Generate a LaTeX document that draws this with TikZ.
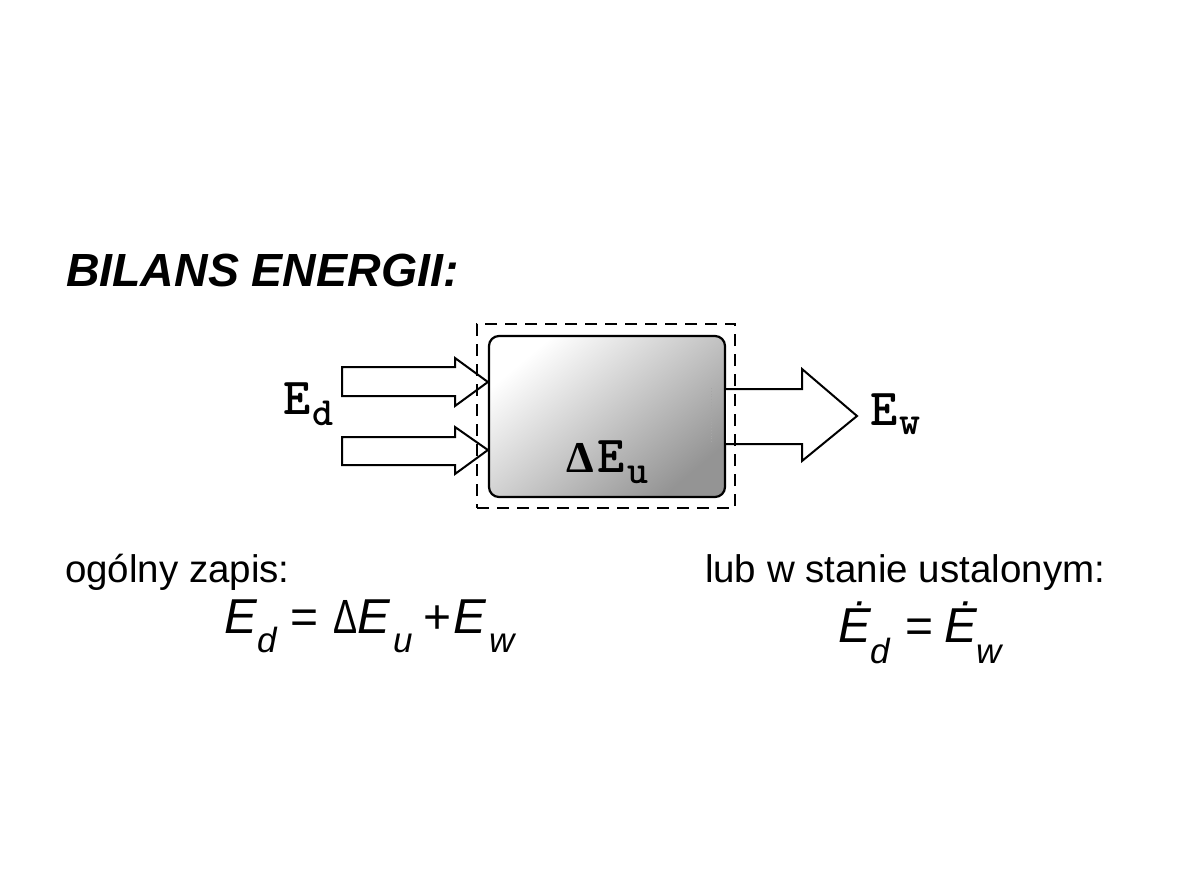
\documentclass[tikz,border=0pt]{standalone}
\usepackage{fontspec}
\setmainfont{Liberation Sans}
\newfontfamily\courbold{lmmonolt10-bold.otf}
\newfontfamily\serifbold{Liberation Serif}[UprightFont=*-Bold]
\newcommand{\lsub}[2]{\hspace{#1}\raisebox{#2}{\fontsize{40}{40}\selectfont}}
\begin{document}
\begin{tikzpicture}[x=1pt,y=-1pt,
  txt/.style={inner sep=0pt, outer sep=0pt, anchor=base west},
  lbl/.style={txt, font=\courbold\fontsize{52}{52}\selectfont},
  eq/.style={txt, font=\fontsize{48}{48}\selectfont},
  eqi/.style={txt, font=\itshape\fontsize{49}{49}\selectfont},
  sub/.style={txt, font=\itshape\fontsize{35}{35}\selectfont},
  blockarrow/.style={draw=black, line width=2pt, fill=white, line join=miter},
  sysbox/.style={draw=black, line width=2.2pt, rounded corners=10pt,
    top color=white, bottom color=black!42, shading angle=40,
    minimum width=236pt, minimum height=161pt, inner sep=0pt},
  frame/.style={draw=black, line width=2.2pt, dash pattern=on 12pt off 8pt,
    minimum width=258pt, minimum height=184pt, inner sep=0pt}
]
\useasboundingbox (0,0) rectangle (1191,893);

% title
\node[txt, font=\bfseries\itshape\fontsize{46.5}{46.5}\selectfont] (title) at (66,287) {BILANS ENERGII:};

% system box
\node[sysbox] (sys) at (607,416.5) {};
\draw[gray!70, line width=0.8pt, dotted] (711,388) -- (711,443);

% input arrows
\coordinate (in1) at (sys.west |- 0,382);
\coordinate (in2) at (sys.west |- 0,450);
\draw[blockarrow] (342,367) -- (455,367) -- (455,358) -- (in1) -- (455,406) -- (455,396) -- (342,396) -- cycle;
\draw[blockarrow] (342,437) -- (455,437) -- (455,427) -- (in2) -- (455,474) -- (455,465) -- (342,465) -- cycle;

% output arrow
\coordinate (outtip) at (857,416);
\fill[white] (sys.east |- 0,389) -- (802,389) -- (802,369) -- (outtip) -- (802,461) -- (802,444) -- (sys.east |- 0,444) -- cycle;
\draw[line width=2pt, line join=miter] (sys.east |- 0,389) -- (802,389) -- (802,369) -- (outtip) -- (802,461) -- (802,444) -- (sys.east |- 0,444);

% dashed frame
\node[frame] (frm) at (606,416) {};

% labels
\node[lbl] (Ed) at (283,414) {E\hspace{2pt}\raisebox{-11pt}{\fontsize{40}{40}\selectfont d}};
\node[lbl] (dEu) at (566,472) {{\serifbold\fontsize{44}{44}\selectfont Δ}\hspace{4pt}E\hspace{3pt}\raisebox{-11pt}{\fontsize{40}{40}\selectfont u}};
\node[lbl] (Ew) at (870,425) {E\hspace{2pt}\raisebox{-9pt}{\fontsize{40}{40}\selectfont w}};

% captions
\node[txt, font=\fontsize{38.5}{38.5}\selectfont] (cap1) at (65,582) {ogólny zapis:};
\node[txt, font=\fontsize{38.5}{38.5}\selectfont] (cap2) at (705,582) {lub w stanie ustalonym:};

% left equation
\node[eqi] (l1) at (224,633) {E};
\node[sub] (l2) at (257,652) {d};
\node[eq]  (l3) at (290,633) {=};
\node[eq]  (l4) at (333,633) {\scalebox{0.75}[1]{Δ}};
\node[eqi] (l5) at (357,633) {E};
\node[sub] (l6) at (393,652) {u};
\node[eq]  (l7) at (423,633) {+};
\node[eqi] (l8) at (453,633) {E};
\node[sub] (l9) at (489,652) {w};

% right equation
\node[eqi] (r1) at (838,642) {Ė};
\node[sub] (r2) at (870,663) {d};
\node[eq]  (r3) at (905,642) {=};
\node[eqi] (r4) at (944,642) {Ė};
\node[sub] (r5) at (976,663) {w};
\end{tikzpicture}
\end{document}
